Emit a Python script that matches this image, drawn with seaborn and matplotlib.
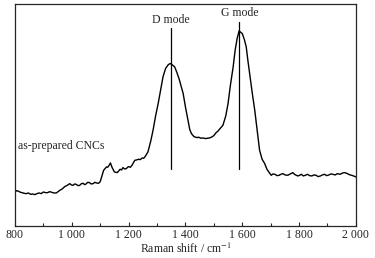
import seaborn as sns
import matplotlib.pyplot as plt
import pandas as pd

# Raman spectrum of as-prepared CNCs (intensity in arbitrary units)
shift = [800, 806, 813, 819, 825, 832, 840, 847, 855, 862, 870, 877, 885, 892,
         900, 907, 915, 922, 930, 937, 945, 952, 958, 966, 975, 984, 993, 999,
         1005, 1010, 1015, 1022, 1028, 1034, 1040, 1045, 1050, 1056, 1062, 1068,
         1075, 1081, 1087, 1094, 1100, 1106, 1112, 1117, 1122, 1126, 1130, 1136,
         1142, 1150, 1155, 1160, 1165, 1170, 1175, 1180, 1186, 1192, 1196, 1200,
         1206, 1212, 1217, 1222, 1228, 1235, 1241, 1248, 1253, 1258, 1268, 1278,
         1286, 1295, 1304, 1313, 1321, 1330, 1340, 1347, 1355, 1362, 1370, 1378,
         1386, 1392, 1400, 1409, 1415, 1421, 1430, 1440, 1447, 1455, 1462, 1470,
         1477, 1485, 1491, 1497, 1502, 1508, 1514, 1520, 1526, 1532, 1542, 1550,
         1558, 1568, 1575, 1582, 1589, 1595, 1600, 1607, 1614, 1620, 1626, 1635,
         1644, 1652, 1661, 1670, 1679, 1687, 1695, 1702, 1708, 1715, 1722, 1730,
         1736, 1743, 1751, 1760, 1769, 1778, 1784, 1790, 1796, 1802, 1808, 1815,
         1822, 1830, 1837, 1845, 1852, 1860, 1867, 1875, 1882, 1890, 1897, 1905,
         1912, 1919, 1927, 1935, 1944, 1954, 1962, 1970, 1977, 1985, 1992, 2000]
intensity = [102, 106, 104, 101, 100, 98, 97, 99, 95, 96, 94, 97, 99, 97,
             102, 100, 100, 103, 101, 99, 99, 103, 107, 111, 118, 122, 127, 123,
             122, 126, 125, 121, 122, 127, 128, 124, 126, 131, 130, 126,
             127, 131, 129, 128, 133, 150, 167, 172, 177, 176, 180, 189,
             175, 162, 161, 160, 165, 170, 168, 175, 171, 172, 176, 178,
             176, 182, 190, 197, 198, 200, 199, 204, 203, 208, 222, 255,
             287, 330, 367, 410, 447, 472, 484, 487, 482, 477, 460, 440,
             415, 397, 357, 317, 290, 277, 268, 265, 266, 263, 264, 262,
             263, 264, 266, 269, 273, 280, 284, 290, 296, 302, 330, 367,
             420, 477, 527, 562, 585, 580, 577, 560, 537, 495, 457, 400,
             347, 290, 227, 200, 187, 170, 160, 152, 156, 155, 151, 152,
             155, 157, 153, 152, 156, 160, 155, 152, 150, 152, 155, 150,
             152, 155, 151, 150, 153, 152, 148, 150, 153, 155, 151, 153,
             156, 155, 153, 157, 155, 159, 160, 157, 154, 152, 150, 147]

modes = ["D mode", "G mode"]
mode_pos = [1350, 1590]
mode_line_top = [592, 612]
mode_line_bottom = [170, 172]
major_ticks = [800, 1000, 1200, 1400, 1600, 1800, 2000]
minor_ticks = [900, 1100, 1300, 1500, 1700, 1900]

df = pd.DataFrame({"shift": shift, "intensity": intensity})

sns.set_style("ticks")
plt.rcParams["font.family"] = ["Liberation Serif", "DejaVu Serif"]
plt.rcParams["mathtext.fontset"] = "stix"

fig = plt.figure(figsize=(3.75, 2.58), dpi=100)
ax = fig.add_axes([0.04, 0.124, 0.909, 0.86])
sns.lineplot(data=df, x="shift", y="intensity", color="black", linewidth=1.0, ax=ax)

for name, pos, top, bot in zip(modes, mode_pos, mode_line_top, mode_line_bottom):
    ax.plot([pos, pos], [bot, top], color="black", linewidth=0.9)
    ax.text(pos, top + 8, name, ha="center", va="bottom", fontsize=8.5)

ax.text(812, 240, "as-prepared CNCs", ha="left", va="center", fontsize=8.5)

ax.set_xlim(800, 2000)
ax.set_ylim(0, 665)
ax.set_xticks(major_ticks)
ax.set_xticks(minor_ticks, minor=True)
ax.set_xticklabels([f"{v:,}".replace(",", " ") for v in major_ticks])
ax.set_yticks([])
ax.tick_params(axis="x", which="major", direction="in", length=3, width=0.8,
               labelsize=8.5, pad=2)
ax.tick_params(axis="x", which="minor", direction="in", length=2, width=0.8)
for s in ax.spines.values():
    s.set_linewidth(0.9)
ax.set_xlabel("Raman shift / cm$^{-1}$", fontsize=8.5, labelpad=1)
ax.set_ylabel("")

fig.savefig("out.png", dpi=100)
